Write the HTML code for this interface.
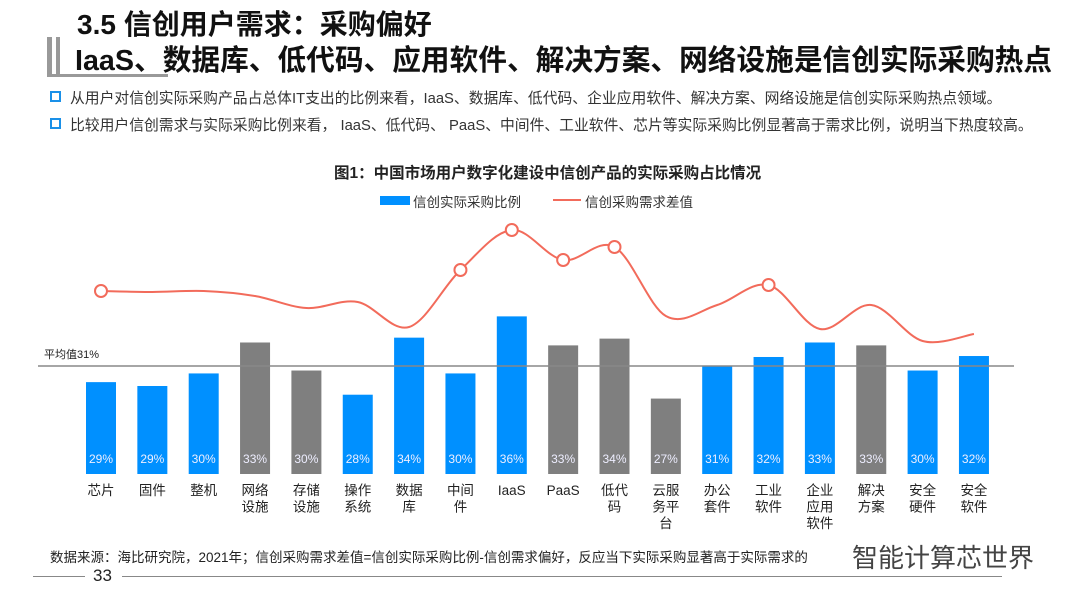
<!DOCTYPE html>
<html><head><meta charset="utf-8">
<style>
body{margin:0;width:1080px;height:608px;overflow:hidden;background:#fff;font-family:"Liberation Sans","Noto Sans CJK SC",sans-serif;position:relative}
.abs{position:absolute;white-space:nowrap}
</style></head><body>
<div class="abs" style="left:77px;top:3px;font-size:28px;font-weight:bold;color:#111">3.5 信创用户需求：采购偏好</div>
<div class="abs" style="left:47px;top:37px;width:5px;height:40px;background:#999"></div>
<div class="abs" style="left:56px;top:37px;width:4px;height:38px;background:#999"></div>
<div class="abs" style="left:47px;top:74px;width:121px;height:3px;background:#999"></div>
<div class="abs" style="left:75px;top:38px;font-size:28.7px;font-weight:bold;color:#111">IaaS、数据库、低代码、应用软件、解决方案、网络设施是信创实际采购热点</div>
<div class="abs" style="left:50px;top:87px;font-size:14.8px;color:#333"><span style="display:inline-block;width:7px;height:7px;border:2px solid #1a90e8;margin-right:9px;vertical-align:1px"></span>从用户对信创实际采购产品占总体IT支出的比例来看，IaaS、数据库、低代码、企业应用软件、解决方案、网络设施是信创实际采购热点领域。</div>
<div class="abs" style="left:50px;top:114px;font-size:14.8px;color:#333"><span style="display:inline-block;width:7px;height:7px;border:2px solid #1a90e8;margin-right:9px;vertical-align:1px"></span>比较用户信创需求与实际采购比例来看， IaaS、低代码、 PaaS、中间件、工业软件、芯片等实际采购比例显著高于需求比例，说明当下热度较高。</div>
<div class="abs" style="left:334px;top:161px;font-size:15.5px;font-weight:bold;color:#222">图1：中国市场用户数字化建设中信创产品的实际采购占比情况</div>
<div class="abs" style="left:380px;top:196px;width:30px;height:9px;background:#0090ff"></div>
<div class="abs" style="left:413px;top:191px;font-size:13.5px;color:#333">信创实际采购比例</div>
<div class="abs" style="left:553px;top:199px;width:28px;height:2px;background:#f26b5b"></div>
<div class="abs" style="left:585px;top:191px;font-size:13.5px;color:#333">信创采购需求差值</div>
<svg id="chart" class="abs" style="left:0;top:0" width="1080" height="608"></svg>
<div class="abs" style="left:50px;top:546px;font-size:13.5px;color:#222">数据来源：海比研究院，2021年；信创采购需求差值=信创实际采购比例-信创需求偏好，反应当下实际采购显著高于实际需求的</div>
<div class="abs" style="left:33px;top:576px;width:52px;height:1px;background:#888"></div>
<div class="abs" style="left:122px;top:576px;width:880px;height:1px;background:#888"></div>
<div class="abs" style="left:93px;top:566px;font-size:17px;color:#222">33</div>
<div class="abs" style="left:852px;top:538px;font-size:26px;color:#444">智能计算芯世界</div>
<script>
const categories=["芯片","固件","整机","网络设施","存储设施","操作系统","数据库","中间件","IaaS","PaaS","低代码","云服务平台","办公套件","工业软件","企业应用软件","解决方案","安全硬件","安全软件"];
const labelLines=[["芯片"],["固件"],["整机"],["网络","设施"],["存储","设施"],["操作","系统"],["数据","库"],["中间","件"],["IaaS"],["PaaS"],["低代","码"],["云服","务平","台"],["办公","套件"],["工业","软件"],["企业","应用","软件"],["解决","方案"],["安全","硬件"],["安全","软件"]];
const purchaseValues=[29.0,28.6,29.9,33.1,30.2,27.7,33.6,29.9,35.8,32.8,33.5,27.3,30.7,31.6,33.1,32.8,30.2,31.7];
const barColors=["b","b","b","g","g","b","b","b","b","g","g","g","b","b","b","g","b","b"];
const gapValues=[7.5,7.4,7.5,7.0,5.8,6.4,3.9,9.6,13.6,10.6,11.9,5.0,6.1,8.1,3.7,6.1,2.5,3.2];
const markerIdx=[0,7,8,9,10,13];
const averageValue=31;

const svg=document.getElementById('chart');const NS='http://www.w3.org/2000/svg';
function mk(t,a){const e=document.createElementNS(NS,t);for(const k in a)e.setAttribute(k,a[k]);svg.appendChild(e);return e;}
const x0=101,step=51.35,base=474,vmin=19.5,ppv=9.67;
const xs=i=>x0+i*step;
const yb=v=>base-(v-vmin)*ppv;
const yl=d=>366-d*10;
categories.forEach((c,i)=>{
  const v=purchaseValues[i];
  const r=mk('rect',{x:xs(i)-15,y:yb(v),width:30,height:base-yb(v),fill:barColors[i]==='b'?'#0090ff':'#7f7f7f'});
  
  
  const t=mk('text',{x:xs(i),y:463,'text-anchor':'middle','font-size':12,fill:'#eef'});
  t.textContent=Math.round(v)+'%';
  
  
  labelLines[i].forEach((l,j)=>{
    const tl=mk('text',{x:xs(i),y:495+j*16.5,'text-anchor':'middle','font-size':13.5,fill:'#222','font-family':'Liberation Sans, Noto Sans CJK SC, sans-serif'});
    tl.textContent=l;
    
    
  });
});
const al=mk('line',{x1:38,x2:1014,y1:366,y2:366,stroke:'#888','stroke-width':1.5});


const at=mk('text',{x:44,y:358,'font-size':11,fill:'#222'});
at.textContent='平均值'+averageValue+'%';


const pts=gapValues.map((d,i)=>[xs(i),yl(d)]);
let p='M'+pts[0][0]+','+pts[0][1];
for(let i=0;i<pts.length-1;i++){
  const a=pts[Math.max(0,i-1)],b=pts[i],c=pts[i+1],d=pts[Math.min(pts.length-1,i+2)];
  const t=6;
  p+=` C${b[0]+(c[0]-a[0])/t},${b[1]+(c[1]-a[1])/t} ${c[0]-(d[0]-b[0])/t},${c[1]-(d[1]-b[1])/t} ${c[0]},${c[1]}`;
}
const ln=mk('path',{d:p,fill:'none',stroke:'#f26b5b','stroke-width':2});


markerIdx.forEach(i=>{
  const m=mk('circle',{cx:pts[i][0],cy:pts[i][1],r:6,fill:'#fff',stroke:'#f26b5b','stroke-width':2});
  
  
});
</script>
</body></html>
